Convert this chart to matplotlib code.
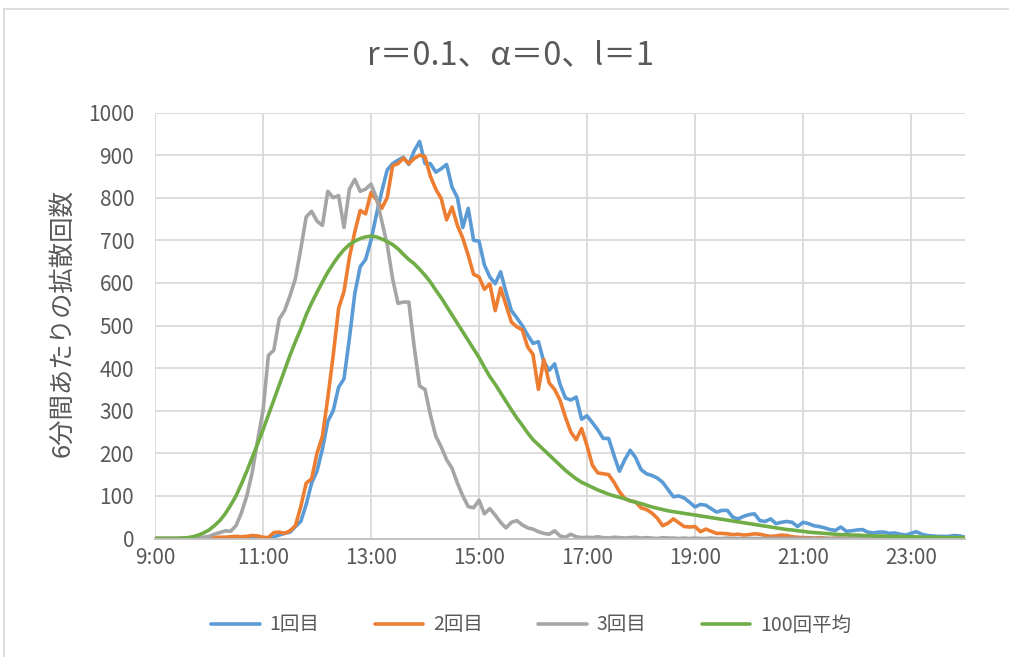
import numpy as np
import matplotlib
matplotlib.use("Agg")
import matplotlib.pyplot as plt

plt.rcParams['font.family'] = ['Noto Sans CJK JP', 'DejaVu Sans']

# 6分刻み (9:00〜24:00) の拡散回数
run1 = [0, 0, 0, 0, 0, 0, 0, 0, 0, 0,
        0, 0, 0, 0, 0, 0, 0, 0, 0, 0,
        0, 2, 4, 8, 12, 15, 28, 40, 80, 130,
        158, 210, 275, 300, 355, 375, 470, 575, 638, 655,
        700, 760, 815, 865, 880, 888, 895, 878, 910, 932,
        880, 880, 860, 868, 878, 825, 800, 730, 775, 700,
        698, 642, 614, 598, 626, 578, 535, 518, 500, 478,
        458, 462, 415, 395, 410, 362, 330, 325, 332, 280,
        288, 272, 255, 235, 235, 195, 158, 185, 207, 190,
        162, 152, 148, 142, 132, 115, 98, 100, 95, 85,
        74, 80, 78, 70, 62, 66, 66, 50, 46, 52,
        56, 58, 42, 40, 46, 35, 38, 40, 38, 28,
        38, 35, 30, 28, 25, 21, 19, 27, 17, 18,
        20, 21, 15, 13, 15, 15, 12, 13, 10, 8,
        12, 16, 10, 7, 6, 5, 5, 5, 7, 6,
        3]
run2 = [0, 0, 0, 0, 0, 0, 0, 0, 0, 0,
        0, 2, 3, 3, 4, 5, 4, 5, 7, 6,
        3, 2, 14, 15, 12, 18, 30, 75, 130, 140,
        200, 240, 330, 430, 540, 580, 660, 720, 770, 762,
        812, 795, 775, 800, 875, 880, 893, 880, 892, 900,
        896, 850, 820, 798, 748, 778, 735, 705, 665, 620,
        614, 585, 598, 535, 588, 548, 508, 497, 490, 450,
        432, 350, 420, 365, 350, 325, 285, 250, 232, 258,
        218, 172, 154, 152, 150, 132, 110, 94, 88, 86,
        72, 68, 60, 48, 30, 36, 46, 37, 28, 27,
        28, 16, 22, 17, 12, 12, 11, 9, 10, 8,
        9, 11, 10, 7, 5, 6, 8, 7, 4, 3,
        2, 2, 1, 2, 1, 0, 1, 1, 0, 1,
        0, 0, 1, 0, 0, 0, 1, 0, 0, 0,
        0, 0, 0, 0, 0, 0, 0, 0, 0, 0,
        0]
run3 = [0, 0, 0, 0, 0, 0, 0, 0, 2, 3,
        5, 10, 14, 18, 17, 30, 60, 100, 155, 230,
        300, 430, 442, 515, 535, 570, 610, 680, 755, 768,
        745, 735, 815, 800, 805, 730, 820, 843, 815, 820,
        832, 800, 745, 690, 610, 552, 555, 555, 450, 358,
        350, 290, 240, 215, 185, 165, 130, 100, 75, 72,
        90, 58, 70, 55, 38, 25, 38, 42, 32, 25,
        22, 16, 12, 10, 18, 6, 3, 10, 4, 2,
        3, 2, 4, 2, 1, 3, 2, 1, 2, 3,
        1, 2, 1, 0, 2, 1, 1, 0, 1, 0,
        1, 0, 0, 1, 0, 0, 1, 0, 0, 0,
        0, 0, 0, 0, 0, 0, 0, 0, 0, 0,
        0, 0, 0, 0, 0, 0, 0, 0, 0, 0,
        0, 0, 0, 0, 0, 0, 0, 0, 0, 0,
        0, 0, 0, 0, 0, 0, 0, 0, 0, 0,
        0]
avg100 = [0, 0, 0, 0, 0, 1, 2, 4, 8, 13,
          20, 30, 42, 58, 78, 100, 128, 158, 190, 222,
          255, 290, 325, 360, 395, 430, 462, 492, 525, 553,
          578, 602, 625, 645, 663, 678, 690, 698, 704, 708,
          710, 708, 703, 697, 690, 680, 667, 655, 645, 632,
          618, 602, 583, 565, 545, 525, 505, 485, 465, 445,
          425, 402, 380, 362, 342, 322, 302, 283, 266, 248,
          232, 220, 208, 196, 184, 172, 160, 150, 140, 132,
          126, 120, 114, 109, 104, 100, 97, 93, 89, 85,
          82, 78, 74, 71, 68, 65, 63, 61, 59, 57,
          55, 53, 51, 49, 47, 45, 43, 41, 39, 37,
          35, 33, 31, 29, 27, 25, 23, 21, 20, 18,
          17, 15, 14, 13, 12, 11, 10, 9, 9, 8,
          8, 7, 7, 6, 6, 6, 5, 5, 5, 4,
          4, 4, 3, 3, 3, 3, 2, 2, 2, 2,
          2]

labels = ['1回目', '2回目', '3回目', '100回平均']
colors = ['#5B9BD5', '#ED7D31', '#A5A5A5', '#70AD47']
hour_ticks = [9, 11, 13, 15, 17, 19, 21, 23]
tick_labels = [f'{h}:00' for h in hour_ticks]

t = 9 + np.arange(len(run1)) / 10.0

fig = plt.figure(figsize=(10.09, 6.57), dpi=100)
ax = fig.add_axes([155 / 1009, 1 - 538.5 / 657, 810 / 1009, 426 / 657])

for ys, lab, c in zip([run1, run2, run3, avg100], labels, colors):
    ax.plot(t, ys, color=c, lw=2.6, label=lab, solid_joinstyle='round',
            solid_capstyle='round')

ax.set_xlim(9, 24)
ax.set_ylim(0, 1000)
ax.set_xticks(hour_ticks)
ax.set_xticklabels(tick_labels)
ax.set_yticks(range(0, 1001, 100))
ax.grid(True, color='#D9D9D9', lw=1.3)
ax.set_axisbelow(True)
for s in ['top', 'right', 'left']:
    ax.spines[s].set_visible(False)
ax.spines['bottom'].set_color('#BFBFBF')
ax.spines['bottom'].set_linewidth(1.3)
ax.tick_params(length=0, labelsize=15, labelcolor='#595959')
ax.tick_params(axis='y', pad=15)
ax.tick_params(axis='x', pad=6)

fig.text(511 / 1009, 1 - 55 / 657, 'r＝0.1、α＝0、l＝1', ha='center', va='center',
         fontsize=23.5, color='#595959')
fig.text(62 / 1009, 1 - 323 / 657, '6分間あたりの拡散回数', rotation=90,
         ha='center', va='center', fontsize=18.3, color='#595959')

fig.legend(loc='center', bbox_to_anchor=(531 / 1009, 1 - 625 / 657), ncol=4,
           frameon=False, fontsize=14, handlelength=2.5, columnspacing=2.85,
           handletextpad=0.5, labelcolor='#595959')

# 外枠
fig.add_artist(plt.Line2D([4 / 1009, 4 / 1009], [0, 1 - 9 / 657],
                          transform=fig.transFigure, color='#D9D9D9', lw=1.3))
fig.add_artist(plt.Line2D([4 / 1009, 1], [1 - 9 / 657, 1 - 9 / 657],
                          transform=fig.transFigure, color='#D9D9D9', lw=1.3))

fig.savefig('out.png', dpi=100)
